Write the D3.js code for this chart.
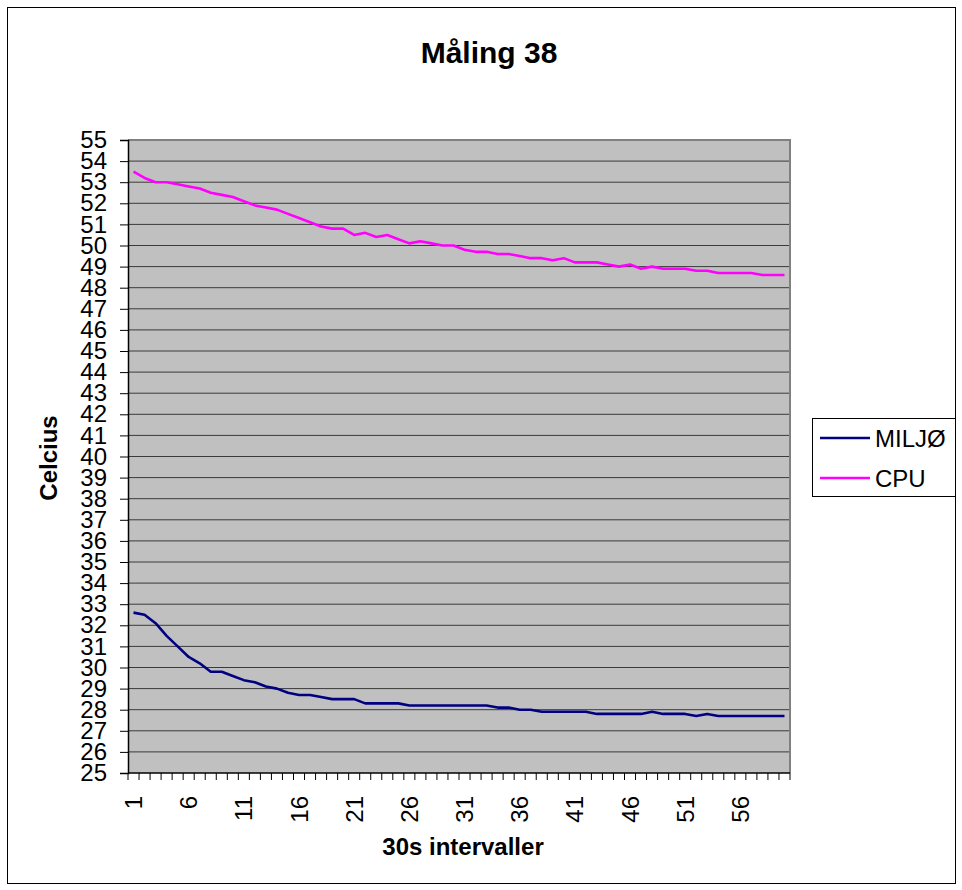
<!DOCTYPE html>
<html>
<head>
<meta charset="utf-8">
<script src="https://cdn.jsdelivr.net/npm/d3@7"></script>
<style>
  html, body { margin: 0; padding: 0; background: #fff; }
  svg { display: block; font-family: "Liberation Sans", Arial, sans-serif; }
</style>
</head>
<body>
<svg id="chart" width="962" height="890"></svg>
<script>
// Temperature log, one reading every 30 s
const intervals = d3.range(1, 61);
const miljo = [
  32.6, 32.5, 32.1, 31.5, 31.0, 30.5, 30.2, 29.8, 29.8, 29.6,
  29.4, 29.3, 29.1, 29.0, 28.8, 28.7, 28.7, 28.6, 28.5, 28.5,
  28.5, 28.3, 28.3, 28.3, 28.3, 28.2, 28.2, 28.2, 28.2, 28.2,
  28.2, 28.2, 28.2, 28.1, 28.1, 28.0, 28.0, 27.9, 27.9, 27.9,
  27.9, 27.9, 27.8, 27.8, 27.8, 27.8, 27.8, 27.9, 27.8, 27.8,
  27.8, 27.7, 27.8, 27.7, 27.7, 27.7, 27.7, 27.7, 27.7, 27.7
];
const cpu = [
  53.5, 53.2, 53.0, 53.0, 52.9, 52.8, 52.7, 52.5, 52.4, 52.3,
  52.1, 51.9, 51.8, 51.7, 51.5, 51.3, 51.1, 50.9, 50.8, 50.8,
  50.5, 50.6, 50.4, 50.5, 50.3, 50.1, 50.2, 50.1, 50.0, 50.0,
  49.8, 49.7, 49.7, 49.6, 49.6, 49.5, 49.4, 49.4, 49.3, 49.4,
  49.2, 49.2, 49.2, 49.1, 49.0, 49.1, 48.9, 49.0, 48.9, 48.9,
  48.9, 48.8, 48.8, 48.7, 48.7, 48.7, 48.7, 48.6, 48.6, 48.6
];
const yTicks = d3.range(25, 56);
const xTickLabels = intervals.filter(d => (d - 1) % 5 === 0);
const seriesNames = ["MILJØ", "CPU"];
const seriesColors = ["#000080", "#ff00ff"];

const svg = d3.select("#chart");
const plot = { left: 128, right: 790, top: 140, bottom: 773 };

// outer frame
svg.append("rect")
  .attr("x", 7.5).attr("y", 7.5).attr("width", 948).attr("height", 876)
  .attr("fill", "#fff").attr("stroke", "#000").attr("stroke-width", 1);

const x = d3.scaleBand().domain(intervals).range([plot.left, plot.right]);
const y = d3.scaleLinear().domain([25, 55]).range([plot.bottom, plot.top]);

// plot background
svg.append("rect")
  .attr("x", plot.left).attr("y", plot.top)
  .attr("width", plot.right - plot.left).attr("height", plot.bottom - plot.top)
  .attr("fill", "#c0c0c0");

// horizontal gridlines
svg.append("g")
  .selectAll("line")
  .data(yTicks.filter(v => v > 25 && v < 55))
  .join("line")
  .attr("x1", plot.left).attr("x2", plot.right)
  .attr("y1", d => y(d)).attr("y2", d => y(d))
  .attr("stroke", "#3a3a3a").attr("stroke-width", 1);

// plot border (top and right)
svg.append("path")
  .attr("d", `M${plot.left},${plot.top}H${plot.right}V${plot.bottom}`)
  .attr("fill", "none").attr("stroke", "#808080").attr("stroke-width", 2);

// lines
const line = d3.line()
  .x((d, i) => x(intervals[i]) + x.bandwidth() / 2)
  .y(d => y(d));

[miljo, cpu].forEach((vals, k) => {
  svg.append("path")
    .datum(vals)
    .attr("d", line)
    .attr("fill", "none")
    .attr("stroke", seriesColors[k])
    .attr("stroke-width", 2.6)
    .attr("stroke-linejoin", "round");
});

// y axis
const yAxis = svg.append("g")
  .attr("transform", `translate(${plot.left},0)`)
  .call(d3.axisLeft(y).tickValues(yTicks).tickFormat(d3.format("d")).tickSize(8).tickPadding(13));
yAxis.select(".domain").attr("stroke", "#000").attr("stroke-width", 1.5);
yAxis.selectAll(".tick line").attr("stroke", "#000");
yAxis.selectAll(".tick text")
  .attr("font-size", 24).attr("font-family", "Liberation Sans, Arial, sans-serif").attr("fill", "#000");

// x axis: tick marks on category boundaries
const xg = svg.append("g");
xg.append("line")
  .attr("x1", plot.left).attr("x2", plot.right)
  .attr("y1", plot.bottom).attr("y2", plot.bottom)
  .attr("stroke", "#000").attr("stroke-width", 1.5);
xg.selectAll("line.tk")
  .data(intervals.concat([null]))
  .join("line")
  .attr("class", "tk")
  .attr("x1", d => d === null ? plot.right : x(d))
  .attr("x2", d => d === null ? plot.right : x(d))
  .attr("y1", plot.bottom).attr("y2", plot.bottom + 7)
  .attr("stroke", "#000").attr("stroke-width", 1);

// x tick labels, rotated
xg.selectAll("text.lbl")
  .data(xTickLabels)
  .join("text")
  .attr("class", "lbl")
  .attr("transform", d => `translate(${x(d) + x.bandwidth() / 2},796) rotate(-90)`)
  .attr("text-anchor", "end")
  .attr("dy", "0.36em")
  .attr("font-size", 24)
  .attr("fill", "#000")
  .text(d => d);

// titles
svg.append("text")
  .attr("x", 489).attr("y", 63)
  .attr("text-anchor", "middle")
  .attr("font-size", 30).attr("font-weight", "bold")
  .text("Måling 38");

svg.append("text")
  .attr("x", 463).attr("y", 855)
  .attr("text-anchor", "middle")
  .attr("font-size", 24).attr("font-weight", "bold")
  .text("30s intervaller");

svg.append("text")
  .attr("transform", "translate(57,458) rotate(-90)")
  .attr("text-anchor", "middle")
  .attr("font-size", 24).attr("font-weight", "bold")
  .text("Celcius");

// legend
const legend = svg.append("g");
legend.append("rect")
  .attr("x", 812.5).attr("y", 418.5).attr("width", 143).attr("height", 78)
  .attr("fill", "#fff").attr("stroke", "#000").attr("stroke-width", 1);
seriesNames.forEach((name, i) => {
  const cy = 438 + i * 40;
  legend.append("line")
    .attr("x1", 820).attr("x2", 870).attr("y1", cy).attr("y2", cy)
    .attr("stroke", seriesColors[i]).attr("stroke-width", 2.6);
  legend.append("text")
    .attr("x", 875).attr("y", cy).attr("dy", "0.36em")
    .attr("font-size", 24).attr("fill", "#000")
    .text(name);
});
</script>
</body>
</html>
